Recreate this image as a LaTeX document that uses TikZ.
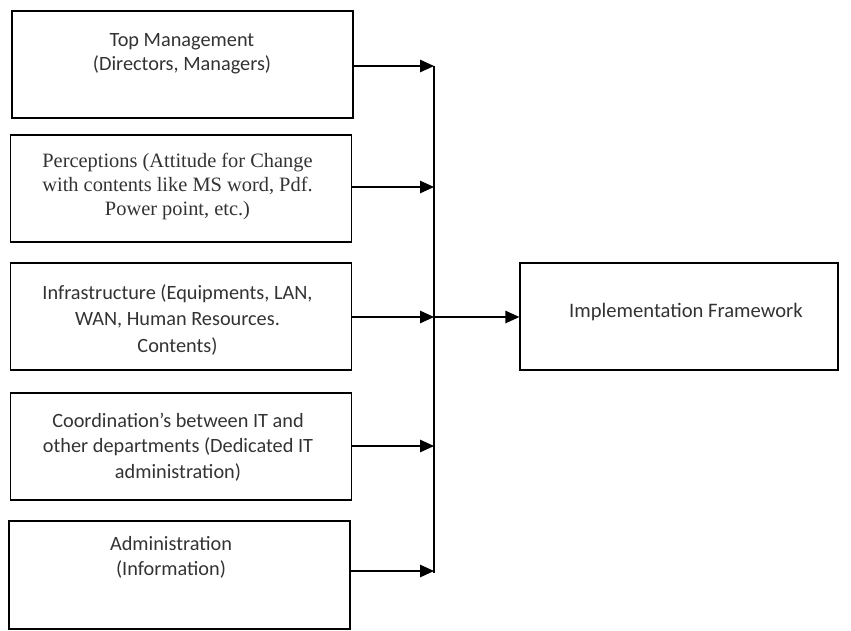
\documentclass[tikz,border=0pt]{standalone}
\usepackage{fontspec}
\setmainfont{Carlito}
\newfontfamily\serifface{Liberation Serif}
\usetikzlibrary{arrows.meta}
\begin{document}
\begin{tikzpicture}[x=1pt,y=-1pt,
  box/.style={draw, line width=1.3pt, inner sep=0pt, minimum width=341pt, minimum height=107pt},
  lbl/.style={anchor=base, align=center, inner sep=0pt, text=black!80, font=\fontsize{20.3}{23.5}\selectfont},
  arr/.style={line width=1.3pt, -{Triangle[length=14pt,width=12.5pt]}},
  ln/.style={line width=1.3pt}]
\useasboundingbox (0,0) rectangle (851,630);
\node[box] (b1) at (182.5,64.5) {};
\node[box] (b2) at (181,188.5) {};
\node[box] (b3) at (181,316.5) {};
\node[box] (b4) at (181,446.5) {};
\node[box, minimum height=108pt] (b5) at (179.5,575) {};
\node[box, minimum width=318pt] (fw) at (679,316.5) {};

\node[lbl] (t1) at (182,70) {Top Management\\(Directors, Managers)};
\node[lbl, font=\serifface\fontsize{20.4}{24}\selectfont] (t2) at (177.5,215) {Perceptions (Attitude for Change\\with contents like MS word, Pdf.\\Power point, etc.)};
\node[lbl, font=\fontsize{20.3}{26.5}\selectfont] (t3) at (177.5,352) {Infrastructure (Equipments, LAN,\\WAN, Human Resources.\\Contents)};
\node[lbl, font=\fontsize{20.3}{25.5}\selectfont] (t4) at (178,478) {Coordination’s between IT and\\other departments (Dedicated IT\\administration)};
\node[lbl, font=\fontsize{20.3}{25}\selectfont] (t5) at (171,575) {Administration\\(Information)};
\node[lbl, font=\fontsize{20.6}{24}\selectfont] (t6) at (686,317) {Implementation Framework};

\coordinate (j1) at (434,66);
\coordinate (j2) at (434,187);
\coordinate (j3) at (434,317);
\coordinate (j4) at (434,446);
\coordinate (j5) at (434,571);
\coordinate (jb) at (434,573);

\draw[ln] (j1) -- (jb);
\draw[arr] (b1.east |- j1) -- (j1);
\draw[arr] (b2.east |- j2) -- (j2);
\draw[arr] (b3.east |- j3) -- (j3);
\draw[arr] (b4.east |- j4) -- (j4);
\draw[arr] (b5.east |- j5) -- (j5);
\draw[arr] (j3) -- (fw.west |- j3);
\end{tikzpicture}
\end{document}
